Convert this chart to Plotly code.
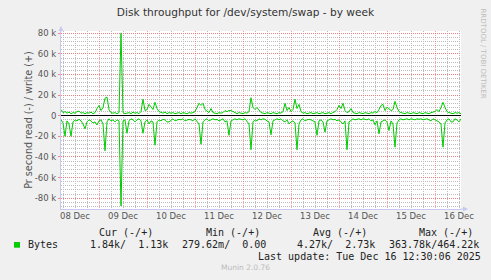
import pandas as pd
import plotly.graph_objects as go

# ---- data (k bytes per second), hourly samples from 2025-12-08 05:00 ----
start = "2025-12-08 05:00"
write_k = [
    6, 3, 4, 2.5, 3.5, 2, 3, 2.5, 4, 4.5,
    2.5, 3, 2, 3, 2.5, 3.5, 2, 3, 7, 10,
    5, 8, 17, 18, 6, 3, 2.5, 3, 2, 3,
    80, 3, 2, 2.5, 3, 2, 3.5, 2.5, 3, 2,
    4, 16, 5, 6, 11, 8.5, 6, 13, 7, 4,
    3, 2.5, 3.5, 2, 3, 2.5, 3, 2, 2.5, 3,
    2, 3, 2.5, 2, 3, 2.5, 3, 4, 8, 12,
    10, 12, 6, 4, 3, 7, 3, 2.5, 2, 3,
    2.5, 3, 5, 4, 5, 5, 4, 2.5, 2, 3,
    2.5, 2, 3, 2.5, 4, 17.5, 8, 6, 8, 5,
    3, 2.5, 2, 3, 2.5, 2, 3, 2.5, 2, 3,
    2.5, 4, 12, 5, 8, 4, 6, 16, 7, 11,
    4, 2.5, 3, 2, 2.5, 3, 2, 2.5, 3, 2,
    2.5, 3, 2, 2.5, 3, 2, 3, 4, 6, 10,
    7, 12, 5, 3, 4, 7, 3, 2.5, 2, 3,
    2.5, 2, 3, 2.5, 2, 3, 2.5, 4, 3, 6,
    10, 11, 5, 8.4, 7, 5, 6, 14, 8, 4,
    3, 2.5, 2, 3, 2.5, 2, 3, 2.5, 2, 3,
    2.5, 2, 3, 2.5, 2, 3, 3.5, 4, 6, 4,
    8, 13, 8, 4, 3, 2.5, 2, 3, 2.5, 3,
    2,
]
read_k = [
    4, 7, 20, 5, 8, 20, 6, 4, 5, 3.5,
    5, 8, 12.7, 6, 4, 5, 7, 6, 9, 5,
    4, 8, 34, 6, 3, 5, 4, 6, 4, 5,
    87.5, 5, 4, 17, 5, 3, 4, 6, 4, 3,
    5, 17, 6, 4, 8, 5, 6, 28.6, 6, 4,
    5, 3.5, 4, 6, 6, 4, 3, 5, 4, 3.5,
    4, 3, 5, 4, 3.5, 4, 5, 3, 6, 8,
    27.7, 6, 4, 3, 5, 4, 3, 4, 3.5, 5,
    4, 3, 6, 5, 19, 5, 4, 3, 4, 3,
    3.5, 4, 3, 5, 8, 33, 6, 4, 5, 3,
    4, 3, 3.5, 5, 6, 18.5, 5, 4, 3, 4,
    3, 5, 6, 4, 8, 6, 5, 7, 33, 8,
    4, 3, 5, 4, 3.5, 4, 5, 6, 19, 5,
    4, 6, 16, 5, 4, 3, 4, 3.5, 5, 4,
    6, 8, 5, 33, 6, 4, 3, 4, 3.5, 3,
    4, 3, 3.5, 4, 3, 5, 4, 8.8, 5, 17.6,
    6, 5, 4, 6, 14.4, 5, 8, 30.5, 7, 4,
    3, 4, 3.5, 3, 4, 3, 3.5, 4, 3, 3.5,
    3, 4, 3.5, 3, 4, 5, 3, 4, 5, 6,
    8, 30.5, 7, 4, 3, 6, 6, 3, 4, 6,
    3,
]
day_labels = ["08 Dec", "09 Dec", "10 Dec", "11 Dec", "12 Dec",
              "13 Dec", "14 Dec", "15 Dec", "16 Dec"]
day_noons = ["2025-12-%02d 12:00" % d for d in range(8, 17)]
y_tick_vals = [80, 60, 40, 20, 0, -20, -40, -60, -80]
y_tick_text = ["80 k", "60 k", "40 k", "20 k", "0", "-20 k", "-40 k", "-60 k", "-80 k"]
x_range = ["2025-12-08 05:00", "2025-12-16 13:00"]
y_range = [-90.5, 82.2]

legend_headers = ["Cur (-/+)", "Min (-/+)", "Avg (-/+)", "Max (-/+)"]
legend_values = ["1.84k/  1.13k", "279.62m/  0.00", "4.27k/  2.73k", "363.78k/464.22k"]
series_name = "Bytes"
last_update = "Last update: Tue Dec 16 12:30:06 2025"
title = "Disk throughput for /dev/system/swap - by week"
y_title = "Pr second read (-) / write (+)"

times = pd.date_range(start, periods=len(write_k), freq="h")

W, H = 491, 280
L, R, T, B = 61, 461, 31, 209


def pxx(x):
    return (x - L) / (R - L)


def pxy(y):
    return (B - y) / (B - T)


GREEN = "#00CC00"
AXIS = "#C8C8F0"
fig = go.Figure()
fig.add_trace(go.Scatter(x=times, y=write_k, mode="lines",
                         line=dict(color=GREEN, width=1), hoverinfo="skip"))
fig.add_trace(go.Scatter(x=times, y=[-v for v in read_k], mode="lines",
                         line=dict(color=GREEN, width=1), hoverinfo="skip"))
# invisible helper trace for the label axis
fig.add_trace(go.Scatter(x=day_noons, y=[None] * len(day_noons), xaxis="x2",
                         mode="markers", hoverinfo="skip", showlegend=False))

major_grid = "rgba(255,80,80,0.55)"
minor_grid = "#BDBDBD"
tick_font = dict(family="DejaVu Sans", size=8.5, color="#555555")

fig.update_layout(
    width=W, height=H,
    margin=dict(l=L, r=W - R, t=T, b=H - B, pad=0),
    paper_bgcolor="#F0F0F0", plot_bgcolor="#FFFFFF",
    showlegend=False,
    xaxis=dict(type="date", range=x_range, tickmode="linear",
               tick0="2025-12-08 00:00", dtick=86400000,
               showticklabels=False, ticks="",
               showgrid=True, gridcolor=major_grid, griddash="1px,1px", gridwidth=1,
               minor=dict(tickmode="linear", tick0="2025-12-08 00:00", dtick=21600000,
                          showgrid=True, gridcolor=minor_grid, griddash="1px,1px",
                          gridwidth=1, ticks=""),
               showline=True, linecolor=AXIS, linewidth=1, zeroline=False),
    xaxis2=dict(type="date", range=x_range, overlaying="x", anchor="y", side="bottom",
                tickmode="array", tickvals=day_noons, ticktext=day_labels,
                showgrid=False, ticks="", tickfont=tick_font, showline=False,
                zeroline=False),
    yaxis=dict(range=y_range, tickmode="array", tickvals=y_tick_vals,
               ticktext=y_tick_text, tickfont=tick_font,
               ticks="outside", ticklen=2, tickcolor="#FF8080",
               showgrid=True, gridcolor=major_grid, griddash="1px,1px", gridwidth=1,
               minor=dict(tickmode="linear", tick0=0, dtick=4, showgrid=True,
                          gridcolor=minor_grid, griddash="1px,1px", gridwidth=1,
                          ticks=""),
               zeroline=True, zerolinecolor="#000000", zerolinewidth=1,
               showline=True, linecolor=AXIS, linewidth=1,
               title=dict(text=y_title, standoff=0,
                          font=dict(family="DejaVu Sans", size=9.6, color="#555555"))),
    title=dict(text=title, x=0.5, xanchor="center", y=1 - 12 / H, yanchor="middle",
               font=dict(family="DejaVu Sans", size=10.6, color="#333333")),
)

annots = []
mono = dict(family="DejaVu Sans Mono", size=10, color="#222222")
hdr_x = [97.3, 204, 310.7, 417.3]
for hx, ht in zip(hdr_x, legend_headers):
    annots.append(dict(x=pxx(hx), y=pxy(232), text=ht, font=mono))
val_x = [88.3, 180.3, 295.3, 387.3]
for vx, vt in zip(val_x, legend_values):
    annots.append(dict(x=pxx(vx), y=pxy(244.7), text=vt, font=mono))
annots.append(dict(x=pxx(26.3), y=pxy(244.7), text=series_name, font=mono))
annots.append(dict(x=pxx(255.7), y=pxy(256.7), text=last_update, font=mono))
annots.append(dict(x=pxx(245), y=pxy(267.7), text="Munin 2.0.76", xanchor="center",
                   font=dict(family="DejaVu Sans", size=7.5, color="#BBBBBB")))
annots.append(dict(x=pxx(483), y=pxy(53.5), text="RRDTOOL / TOBI OETIKER", textangle=90,
                   xanchor="center", yanchor="middle",
                   font=dict(family="DejaVu Sans", size=7, color="#BBBBBB")))
for a in annots:
    a.setdefault("xanchor", "left")
    a.setdefault("yanchor", "middle")
    a.update(xref="paper", yref="paper", showarrow=False)

# axis arrowheads (rrdtool style)
annots.append(dict(x=pxx(468), y=pxy(209), ax=-9, ay=0, axref="pixel", ayref="pixel",
                   xref="paper", yref="paper", text="", showarrow=True,
                   arrowhead=2, arrowsize=1, arrowwidth=1, arrowcolor=AXIS))
annots.append(dict(x=pxx(61), y=pxy(26), ax=0, ay=8, axref="pixel", ayref="pixel",
                   xref="paper", yref="paper", text="", showarrow=True,
                   arrowhead=2, arrowsize=1, arrowwidth=1, arrowcolor=AXIS))
fig.update_layout(annotations=annots)

# legend colour swatch
fig.add_shape(type="rect", xref="paper", yref="paper",
              x0=pxx(14), x1=pxx(20), y0=pxy(247.7), y1=pxy(242), fillcolor=GREEN,
              line=dict(width=0))

fig.write_html("out.html")
